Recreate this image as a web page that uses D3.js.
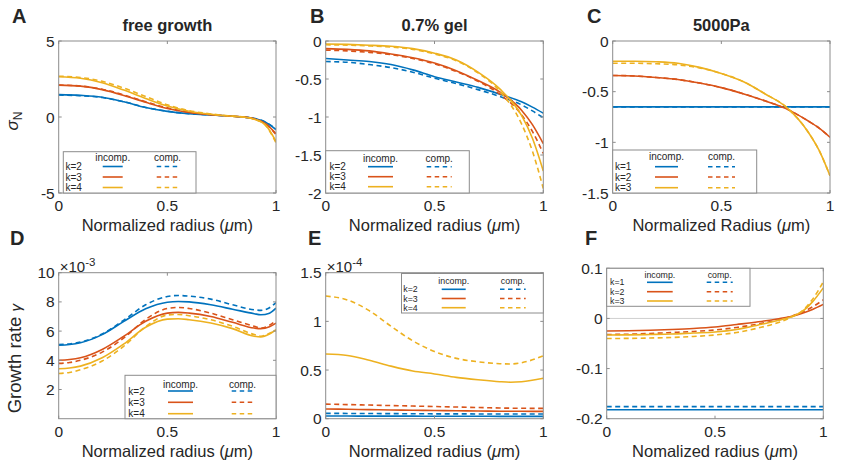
<!DOCTYPE html>
<html>
<head>
<meta charset="utf-8">
<script src="https://cdn.jsdelivr.net/npm/d3@7"></script>
<style>
  html, body { margin: 0; padding: 0; background: #fff; }
  svg { display: block; }
  text { font-family: "Liberation Sans", Arial, Helvetica, sans-serif; fill: #262626; }
</style>
</head>
<body>
<svg id="fig" width="850" height="466"></svg>
<script>
// ---------- data ----------
const COLORS = ["#0072BD", "#D95319", "#EDB120"];

// A: free growth, sigma_N
const A_x = [0, 0.1, 0.2, 0.3, 0.4, 0.5, 0.6, 0.7, 0.8, 0.85, 0.9, 0.95, 1];
const A_inc = [
  [1.47, 1.42, 1.3, 1.0, 0.62, 0.37, 0.22, 0.13, 0.05, 0, -0.1, -0.33, -0.83],
  [2.1, 2.03, 1.8, 1.42, 0.97, 0.56, 0.3, 0.15, 0.05, 0, -0.12, -0.42, -1.1],
  [2.65, 2.55, 2.25, 1.77, 1.22, 0.72, 0.38, 0.18, 0.05, 0, -0.15, -0.5, -1.6],
];
const A_comp = [
  [1.45, 1.4, 1.28, 1.0, 0.63, 0.38, 0.22, 0.13, 0.05, 0, -0.1, -0.32, -0.8],
  [2.1, 2.04, 1.83, 1.45, 1.0, 0.6, 0.32, 0.16, 0.05, 0, -0.12, -0.42, -1.15],
  [2.68, 2.6, 2.35, 1.9, 1.35, 0.8, 0.42, 0.2, 0.06, 0, -0.15, -0.52, -1.7],
];

// B: 0.7% gel, sigma_N
const B_x = [0, 0.1, 0.2, 0.3, 0.4, 0.5, 0.6, 0.7, 0.8, 0.9, 0.95, 1];
const B_inc = [
  [-0.23, -0.25, -0.27, -0.31, -0.38, -0.47, -0.54, -0.61, -0.7, -0.8, -0.87, -0.95],
  [-0.1, -0.11, -0.13, -0.17, -0.22, -0.29, -0.39, -0.52, -0.67, -0.91, -1.1, -1.35],
  [-0.04, -0.045, -0.055, -0.07, -0.1, -0.16, -0.25, -0.41, -0.63, -0.98, -1.28, -1.71],
];
const B_comp = [
  [-0.27, -0.28, -0.31, -0.35, -0.41, -0.49, -0.56, -0.64, -0.73, -0.84, -0.92, -1.01],
  [-0.12, -0.13, -0.15, -0.18, -0.23, -0.3, -0.4, -0.53, -0.7, -0.97, -1.19, -1.48],
  [-0.05, -0.055, -0.065, -0.08, -0.11, -0.17, -0.26, -0.42, -0.66, -1.09, -1.45, -1.94],
];

// C: 5000Pa, sigma_N
const C_x = [0, 0.1, 0.2, 0.3, 0.4, 0.5, 0.6, 0.7, 0.8, 0.9, 0.95, 1];
const C_inc = [
  [-0.65, -0.65, -0.65, -0.65, -0.65, -0.65, -0.65, -0.65, -0.65, -0.65, -0.65, -0.65],
  [-0.34, -0.345, -0.36, -0.38, -0.415, -0.46, -0.52, -0.59, -0.67, -0.79, -0.86, -0.95],
  [-0.2, -0.2, -0.205, -0.22, -0.26, -0.32, -0.4, -0.52, -0.655, -0.9, -1.08, -1.33],
];
const C_comp = [
  [-0.65, -0.65, -0.65, -0.65, -0.65, -0.65, -0.65, -0.65, -0.65, -0.65, -0.65, -0.65],
  [-0.34, -0.345, -0.36, -0.38, -0.415, -0.46, -0.52, -0.59, -0.67, -0.79, -0.86, -0.95],
  [-0.22, -0.22, -0.225, -0.235, -0.265, -0.32, -0.4, -0.52, -0.655, -0.9, -1.08, -1.33],
];

// D: free growth, growth rate (x1e-3)
const D_x = [0, 0.05, 0.1, 0.2, 0.3, 0.4, 0.5, 0.55, 0.6, 0.7, 0.8, 0.9, 0.93, 0.97, 1];
const D_inc = [
  [5.03, 5.08, 5.2, 5.76, 6.67, 7.53, 7.98, 8.03, 8.0, 7.8, 7.5, 7.19, 7.12, 7.23, 7.57],
  [4.0, 4.05, 4.17, 4.74, 5.65, 6.67, 7.23, 7.28, 7.23, 7.0, 6.6, 6.21, 6.17, 6.3, 6.55],
  [3.42, 3.47, 3.6, 4.17, 5.12, 6.26, 6.82, 6.85, 6.78, 6.55, 6.17, 5.65, 5.6, 5.8, 6.1],
];
const D_comp = [
  [5.08, 5.12, 5.25, 5.8, 6.75, 7.8, 8.37, 8.44, 8.4, 8.19, 7.8, 7.46, 7.42, 7.6, 7.95],
  [3.79, 3.85, 4.0, 4.56, 5.53, 6.8, 7.55, 7.62, 7.55, 7.23, 6.78, 6.33, 6.21, 6.4, 6.73],
  [3.1, 3.17, 3.35, 3.95, 4.97, 6.3, 7.1, 7.14, 7.05, 6.78, 6.33, 5.76, 5.65, 5.85, 6.05],
];

// E: 0.7% gel, growth rate (x1e-4)
const E_x = [0, 0.1, 0.2, 0.3, 0.4, 0.5, 0.6, 0.7, 0.8, 0.85, 0.9, 1];
const E_inc = [
  [0.027, 0.027, 0.026, 0.026, 0.026, 0.025, 0.025, 0.025, 0.024, 0.024, 0.024, 0.024],
  [0.1, 0.097, 0.093, 0.09, 0.087, 0.084, 0.081, 0.079, 0.077, 0.076, 0.076, 0.075],
  [0.665, 0.65, 0.6, 0.54, 0.49, 0.46, 0.425, 0.4, 0.38, 0.375, 0.38, 0.415],
];
const E_comp = [
  [0.055, 0.054, 0.053, 0.052, 0.051, 0.05, 0.05, 0.049, 0.049, 0.048, 0.048, 0.048],
  [0.15, 0.145, 0.14, 0.135, 0.13, 0.125, 0.12, 0.115, 0.11, 0.108, 0.107, 0.106],
  [1.26, 1.22, 1.11, 0.95, 0.8, 0.69, 0.62, 0.585, 0.565, 0.562, 0.575, 0.645],
];

// F: 5000Pa, growth rate
const F_x = [0, 0.1, 0.2, 0.3, 0.4, 0.5, 0.6, 0.7, 0.8, 0.85, 0.9, 0.95, 1];
const F_inc = [
  [-0.182, -0.182, -0.182, -0.182, -0.182, -0.182, -0.182, -0.182, -0.182, -0.182, -0.182, -0.182, -0.182],
  [-0.025, -0.0245, -0.0235, -0.022, -0.02, -0.017, -0.012, -0.0067, 0, 0.004, 0.01, 0.018, 0.028],
  [-0.033, -0.0328, -0.032, -0.031, -0.029, -0.027, -0.022, -0.013, -0.003, 0.003, 0.013, 0.033, 0.061],
];
const F_comp = [
  [-0.176, -0.176, -0.176, -0.176, -0.176, -0.176, -0.176, -0.176, -0.176, -0.176, -0.176, -0.176, -0.176],
  [-0.032, -0.0315, -0.03, -0.028, -0.026, -0.023, -0.018, -0.011, -0.002, 0.004, 0.012, 0.023, 0.037],
  [-0.04, -0.0398, -0.039, -0.038, -0.036, -0.033, -0.028, -0.019, -0.007, 0.002, 0.014, 0.038, 0.073],
];

const X_TICKS = [0, 0.5, 1];
const K_LABELS_234 = ["k=2", "k=3", "k=4"];
const K_LABELS_123 = ["k=1", "k=2", "k=3"];

// ---------- panel layout ----------
const panels = [
  { id: "A", letter: [12, 23], title: "free growth", x: A_x, inc: A_inc, comp: A_comp, ylim: [-5, 5], yticks: [-5, 0, 5],
    box: [58.7, 276, 41, 193], xlabel: "Normalized radius (", ylabel: "sigma", keys: K_LABELS_234,
    leg: { x: 63.3, y: 151.7, w: 132.7, h: 41.3, fs: 10, kx: 65.5, hy: 157.5, rows: [166.5, 177, 187.5], inc: [102.7, 122.7], comp: [156.7, 178.3] } },
  { id: "B", letter: [310, 23], title: "0.7% gel", x: B_x, inc: B_inc, comp: B_comp, ylim: [-2, 0], yticks: [-2, -1.5, -1, -0.5, 0],
    box: [325.7, 543.3, 41, 193], xlabel: "Normalized radius (", keys: K_LABELS_234,
    leg: { x: 325.7, y: 150.7, w: 143.6, h: 42.3, fs: 10, kx: 329.5, hy: 158, rows: [166.7, 176.7, 186.7], inc: [368, 393], comp: [426.7, 451.7] } },
  { id: "C", letter: [587, 23], title: "5000Pa", x: C_x, inc: C_inc, comp: C_comp, ylim: [-1.5, 0], yticks: [-1.5, -1, -0.5, 0],
    box: [612.7, 830, 41, 193], xlabel: "Normalized Radius (", keys: K_LABELS_123,
    leg: { x: 612.7, y: 150, w: 144, h: 43, fs: 10, kx: 615, hy: 156.5, rows: [166.7, 177, 187.7], inc: [655, 678], comp: [708, 735] } },
  { id: "D", letter: [10, 245], x: D_x, inc: D_inc, comp: D_comp, ylim: [0, 10], yticks: [2, 4, 6, 8, 10], expo: "-3",
    box: [58.7, 276, 272.7, 418.7], xlabel: "Normalized radius (", ylabel: "growth", keys: K_LABELS_234,
    leg: { x: 125, y: 375.3, w: 151, h: 43.4, fs: 10, kx: 128.3, hy: 384, rows: [391, 402.3, 413.7], inc: [168, 193], comp: [231.7, 253.3] } },
  { id: "E", letter: [308, 245], x: E_x, inc: E_inc, comp: E_comp, ylim: [0, 1.5], yticks: [0, 0.5, 1, 1.5], expo: "-4",
    box: [325.7, 543.3, 272.7, 418.7], xlabel: "Normalized radius (", keys: K_LABELS_234,
    leg: { x: 401.5, y: 273.5, w: 141.8, h: 39.5, fs: 8.8, kx: 403.3, hy: 280.5, rows: [289.3, 298.5, 307.7], inc: [441.7, 465.7], comp: [500, 525.7] } },
  { id: "F", letter: [585, 245], x: F_x, inc: F_inc, comp: F_comp, ylim: [-0.2, 0.1], yticks: [-0.2, -0.1, 0, 0.1], zeroLine: true,
    box: [606.7, 823.3, 268.3, 418.7], xlabel: "Nomalized radius (", keys: K_LABELS_123,
    leg: { x: 606.7, y: 268.3, w: 143.3, h: 38, fs: 8.8, kx: 610, hy: 275, rows: [282.3, 291.7, 301], inc: [647, 672.7], comp: [706.7, 732.7] } },
];

const svg = d3.select("#fig");
const AX = "#8c8c8c";
const fmtTick = (v) => String(v);

panels.forEach((p) => {
  const [x0, x1, y0, y1] = p.box;
  const x = d3.scaleLinear().domain([0, 1]).range([x0, x1]);
  const y = d3.scaleLinear().domain(p.ylim).range([y1, y0]);
  const g = svg.append("g");

  const clipId = "clip" + p.id;
  svg.append("clipPath").attr("id", clipId).append("rect")
    .attr("x", x0).attr("y", y0).attr("width", x1 - x0).attr("height", y1 - y0);

  if (p.zeroLine) {
    g.append("line").attr("x1", x0).attr("x2", x1).attr("y1", y(0)).attr("y2", y(0))
      .attr("stroke", "#cfcfcf").attr("stroke-width", 1);
  }

  // curves
  const line = d3.line().x((d) => x(d[0])).y((d) => y(d[1])).curve(d3.curveMonotoneX);
  const lines = g.append("g").attr("clip-path", `url(#${clipId})`);
  [0, 1, 2].forEach((k) => {
    lines.append("path").datum(p.x.map((v, i) => [v, p.inc[k][i]]))
      .attr("fill", "none").attr("stroke", COLORS[k]).attr("stroke-width", 1.6).attr("d", line);
    lines.append("path").datum(p.x.map((v, i) => [v, p.comp[k][i]]))
      .attr("fill", "none").attr("stroke", COLORS[k]).attr("stroke-width", 1.6)
      .attr("stroke-dasharray", "5,3.5").attr("d", line);
  });

  // box + inward ticks on all sides
  g.append("rect").attr("x", x0).attr("y", y0).attr("width", x1 - x0).attr("height", y1 - y0)
    .attr("fill", "none").attr("stroke", AX).attr("stroke-width", 1);
  const T = 3;
  X_TICKS.forEach((v) => {
    g.append("line").attr("x1", x(v)).attr("x2", x(v)).attr("y1", y1).attr("y2", y1 - T).attr("stroke", AX);
    g.append("line").attr("x1", x(v)).attr("x2", x(v)).attr("y1", y0).attr("y2", y0 + T).attr("stroke", AX);
    g.append("text").attr("x", x(v)).attr("y", y1 + 18).attr("text-anchor", "middle")
      .attr("font-size", 15.5).text(fmtTick(v));
  });
  p.yticks.forEach((v) => {
    g.append("line").attr("x1", x0).attr("x2", x0 + T).attr("y1", y(v)).attr("y2", y(v)).attr("stroke", AX);
    g.append("line").attr("x1", x1).attr("x2", x1 - T).attr("y1", y(v)).attr("y2", y(v)).attr("stroke", AX);
    g.append("text").attr("x", x0 - 4).attr("y", y(v) + 5.5).attr("text-anchor", "end")
      .attr("font-size", 15.5).text(fmtTick(v));
  });

  // exponent label
  if (p.expo) {
    const t = g.append("text").attr("x", x0 + 1).attr("y", y0 - 1).attr("font-size", 15);
    t.append("tspan").text("\u00d710");
    t.append("tspan").attr("font-size", 11.5).attr("dy", -6).text(p.expo);
  }

  // x label
  const xl = g.append("text").attr("x", (x0 + x1) / 2).attr("y", y1 + 38).attr("text-anchor", "middle")
    .attr("font-size", 16.5);
  xl.append("tspan").text(p.xlabel);
  xl.append("tspan").attr("font-style", "italic").text("\u03bc");
  xl.append("tspan").text("m)");

  // y label
  if (p.ylabel === "sigma") {
    const yl = g.append("text").attr("transform", `translate(18,${(y0 + y1) / 2 + 4}) rotate(-90)`)
      .attr("text-anchor", "middle").attr("font-size", 17);
    yl.append("tspan").attr("font-style", "italic").text("\u03c3");
    yl.append("tspan").attr("font-size", 12).attr("dy", 4).text("N");
  } else if (p.ylabel === "growth") {
    const yl = g.append("text").attr("transform", `translate(21,${(y0 + y1) / 2 + 13}) rotate(-90)`)
      .attr("text-anchor", "middle").attr("font-size", 18.5);
    yl.append("tspan").text("Growth rate ");
    yl.append("tspan").attr("font-style", "italic").attr("font-size", 15).text("\u03b3");
  }

  // title
  if (p.title) {
    g.append("text").attr("x", (x0 + x1) / 2).attr("y", y0 - 10).attr("text-anchor", "middle")
      .attr("font-size", 16.5).attr("font-weight", "bold").attr("fill", "#000").text(p.title);
  }

  // panel letter
  g.append("text").attr("x", p.letter[0]).attr("y", p.letter[1]).attr("font-size", 20)
    .attr("font-weight", "bold").attr("fill", "#000").text(p.id);

  // legend
  const L = p.leg;
  const lg = g.append("g");
  lg.append("rect").attr("x", L.x).attr("y", L.y).attr("width", L.w).attr("height", L.h)
    .attr("fill", "#fff").attr("stroke", AX).attr("stroke-width", 1);
  lg.append("text").attr("x", (L.inc[0] + L.inc[1]) / 2).attr("y", L.hy + L.fs * 0.35)
    .attr("text-anchor", "middle").attr("font-size", L.fs).text("incomp.");
  lg.append("text").attr("x", (L.comp[0] + L.comp[1]) / 2).attr("y", L.hy + L.fs * 0.35)
    .attr("text-anchor", "middle").attr("font-size", L.fs).text("comp.");
  p.keys.forEach((k, i) => {
    const ry = L.rows[i];
    lg.append("text").attr("x", L.kx).attr("y", ry + L.fs * 0.35).attr("font-size", L.fs).text(k);
    lg.append("line").attr("x1", L.inc[0]).attr("x2", L.inc[1]).attr("y1", ry).attr("y2", ry)
      .attr("stroke", COLORS[i]).attr("stroke-width", 1.6);
    lg.append("line").attr("x1", L.comp[0]).attr("x2", L.comp[1]).attr("y1", ry).attr("y2", ry)
      .attr("stroke", COLORS[i]).attr("stroke-width", 1.6).attr("stroke-dasharray", "4.5,3.5");
  });
});
</script>
</body>
</html>
